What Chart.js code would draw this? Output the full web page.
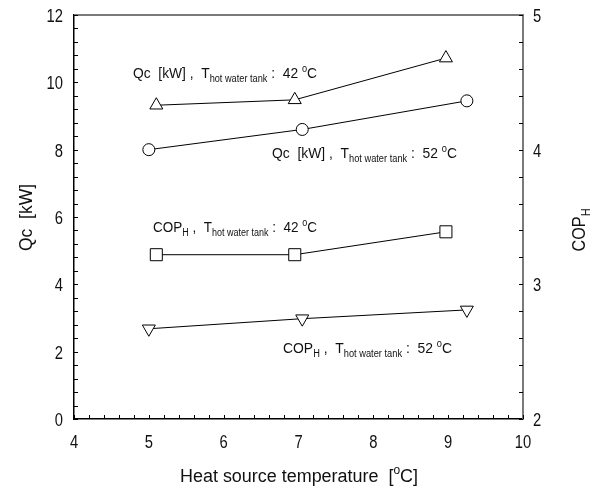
<!DOCTYPE html>
<html>
<head>
<meta charset="utf-8">
<script src="https://cdn.jsdelivr.net/npm/chart.js@4"></script>
<style>
  html, body { margin: 0; padding: 0; background: #fff; }
  #graphique { display: block; }
</style>
</head>
<body>
<canvas id="graphique" width="590" height="490"></canvas>
<script>
// Données
var tempQc42 = [5.1, 6.95, 8.97];
var qc42 = [9.32, 9.48, 10.72];
var tempQc52 = [5.0, 7.05, 9.25];
var qc52 = [8.0, 8.6, 9.45];
var tempCop42 = [5.1, 6.95, 8.97];
var cop42 = [3.22, 3.22, 3.39];
var tempCop52 = [5.0, 7.05, 9.25];
var cop52 = [2.67, 2.745, 2.81];

var xTicks = [4, 5, 6, 7, 8, 9, 10];
var qcTicks = [0, 2, 4, 6, 8, 10, 12];
var copTicks = [2, 3, 4, 5];

var police = "'Liberation Sans', Arial, sans-serif";
var etroit = 0.82; // police étroite façon Arial Narrow

function points(xs, ys) {
  var res = [];
  for (var i = 0; i < xs.length; i++) res.push({ x: xs[i], y: ys[i] });
  return res;
}

function serie(xs, ys, style, axe, rot, rayon) {
  return {
    data: points(xs, ys),
    yAxisID: axe,
    showLine: true,
    borderColor: "#000",
    borderWidth: 1,
    pointStyle: style,
    rotation: rot,
    pointRadius: rayon,
    pointBorderWidth: 1,
    pointBorderColor: "#000",
    pointBackgroundColor: "#fff"
  };
}

// largeur naturelle d'un texte en morceaux [texte, taille, decalage]
function largeurRiche(ctx, morceaux) {
  var w = 0;
  morceaux.forEach(function(m) {
    ctx.font = m[1] + "px " + police;
    w += ctx.measureText(m[0]).width;
  });
  return w;
}

// dessine le texte compressé horizontalement (k), aligné à gauche en x
function texteRiche(ctx, morceaux, x, y, k) {
  ctx.save();
  ctx.translate(x, y);
  ctx.scale(k, 1);
  var cx = 0;
  morceaux.forEach(function(m) {
    ctx.font = m[1] + "px " + police;
    ctx.fillText(m[0], cx, m[2] || 0);
    cx += ctx.measureText(m[0]).width;
  });
  ctx.restore();
}

// annotation placée entre x0 et x1
function annotation(ctx, morceaux, x0, x1, y) {
  var k = (x1 - x0) / largeurRiche(ctx, morceaux);
  texteRiche(ctx, morceaux, x0, y, k);
}

function centre(ctx, morceaux, cx, y, k) {
  var w = largeurRiche(ctx, morceaux) * k;
  texteRiche(ctx, morceaux, cx - w / 2, y, k);
}

var decor = {
  id: "decor",
  afterDraw: function(chart) {
    var ctx = chart.ctx;
    var a = chart.chartArea;
    var sx = chart.scales.x, sy = chart.scales.y, sy2 = chart.scales.y2;
    ctx.save();

    // cadre haut et droit gris
    ctx.strokeStyle = "#7a7a7a";
    ctx.lineWidth = 2;
    ctx.beginPath();
    ctx.moveTo(a.left, a.top);
    ctx.lineTo(a.right, a.top);
    ctx.lineTo(a.right, a.bottom);
    ctx.stroke();

    // graduations intérieures
    ctx.strokeStyle = "#000";
    ctx.lineWidth = 1;
    ctx.beginPath();
    var i, p;
    for (i = 0; i <= 30; i++) {
      p = Math.round(sx.getPixelForValue(4 + i * 0.2)) + 0.5;
      ctx.moveTo(p, a.bottom);
      ctx.lineTo(p, a.bottom - 4);
    }
    for (i = 0; i <= 30; i++) {
      p = Math.round(sy.getPixelForValue(i * 0.4)) + 0.5;
      ctx.moveTo(a.left, p);
      ctx.lineTo(a.left + 4, p);
    }
    for (i = 0; i <= 15; i++) {
      p = Math.round(sy2.getPixelForValue(2 + i * 0.2)) + 0.5;
      ctx.moveTo(a.right, p);
      ctx.lineTo(a.right - 4, p);
    }
    ctx.stroke();

    ctx.fillStyle = "#111";
    ctx.textBaseline = "alphabetic";
    ctx.textAlign = "left";

    // étiquettes des graduations
    var w;
    xTicks.forEach(function(v) {
      centre(ctx, [[String(v), 18]], sx.getPixelForValue(v), 448, etroit);
    });
    qcTicks.forEach(function(v) {
      var t = [[String(v), 18]];
      w = largeurRiche(ctx, t) * etroit;
      texteRiche(ctx, t, 63 - w, sy.getPixelForValue(v) + 7, etroit);
    });
    copTicks.forEach(function(v) {
      texteRiche(ctx, [[String(v), 18]], 533, sy2.getPixelForValue(v) + 7, etroit);
    });

    // annotations des courbes
    var sub = ["hot water tank", 10, 4];
    annotation(ctx, [["Qc  [kW] ,  T", 15], sub, [" :  42 ", 15], ["o", 10, -6], ["C", 15]], 133, 317, 78);
    annotation(ctx, [["Qc  [kW] ,  T", 15], sub, [" :  52 ", 15], ["o", 10, -6], ["C", 15]], 272, 457, 158);
    annotation(ctx, [["COP", 15], ["H", 10, 4], [" ,  T", 15], sub, [" :  42 ", 15], ["o", 10, -6], ["C", 15]], 153, 317, 232);
    annotation(ctx, [["COP", 15], ["H", 10, 4], [" ,  T", 15], sub, [" :  52 ", 15], ["o", 10, -6], ["C", 15]], 283, 452, 353);

    // titre axe x
    annotation(ctx, [["Heat source temperature  [", 18], ["o", 12, -8], ["C]", 18]], 180, 418, 482);

    // titre axe gauche
    ctx.save();
    ctx.translate(32, 218);
    ctx.rotate(-Math.PI / 2);
    annotation(ctx, [["Qc  [kW]", 18]], -33, 34, 0);
    ctx.restore();

    // titre axe droit
    ctx.save();
    ctx.translate(585, 230);
    ctx.rotate(-Math.PI / 2);
    centre(ctx, [["COP", 18], ["H", 12, 5]], 0, 0, 0.9);
    ctx.restore();

    ctx.restore();
  }
};

var ctx = document.getElementById("graphique").getContext("2d");
var chart = new Chart(ctx, {
  type: "scatter",
  data: {
    datasets: [
      serie(tempQc42, qc42, "triangle", "y", 0, 7.5),
      serie(tempQc52, qc52, "circle", "y", 0, 6),
      serie(tempCop42, cop42, "rect", "y2", 0, 8.5),
      serie(tempCop52, cop52, "triangle", "y2", 180, 7.5)
    ]
  },
  options: {
    responsive: false,
    animation: false,
    devicePixelRatio: 1,
    layout: { padding: { top: 15, right: 0, bottom: 0, left: 0 } },
    plugins: {
      legend: { display: false },
      tooltip: { enabled: false }
    },
    scales: {
      x: {
        type: "linear",
        min: 4,
        max: 10,
        afterBuildTicks: function(s) { s.ticks = xTicks.map(function(v) { return { value: v }; }); },
        afterFit: function(s) { s.height = 71; },
        ticks: { display: false },
        grid: { display: false, drawTicks: false },
        border: { color: "#000", width: 1.5 }
      },
      y: {
        position: "left",
        min: 0,
        max: 12,
        afterBuildTicks: function(s) { s.ticks = qcTicks.map(function(v) { return { value: v }; }); },
        afterFit: function(s) { s.width = 74; },
        ticks: { display: false },
        grid: { display: false, drawTicks: false },
        border: { color: "#000", width: 1.5 }
      },
      y2: {
        position: "right",
        min: 2,
        max: 5,
        afterBuildTicks: function(s) { s.ticks = copTicks.map(function(v) { return { value: v }; }); },
        afterFit: function(s) { s.width = 67; },
        ticks: { display: false },
        grid: { display: false, drawTicks: false },
        border: { color: "#7a7a7a", width: 2 }
      }
    }
  },
  plugins: [decor]
});
</script>
</body>
</html>
